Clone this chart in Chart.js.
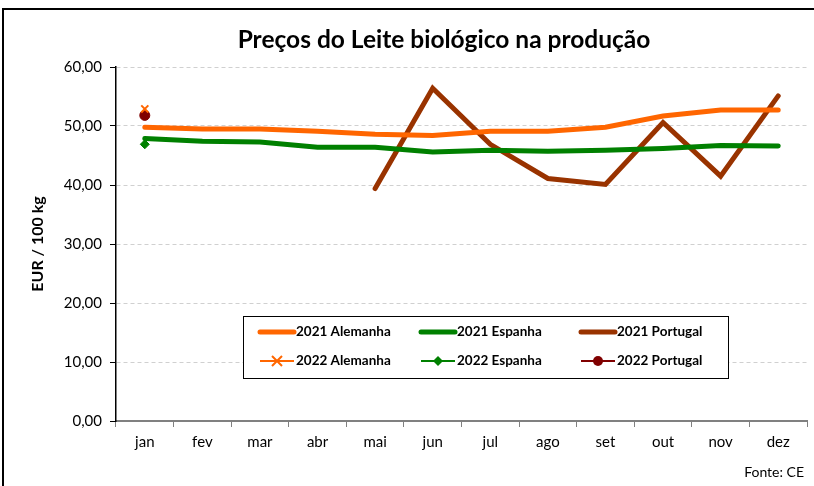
<!DOCTYPE html>
<html>
<head>
<meta charset="utf-8">
<script src="https://cdn.jsdelivr.net/npm/chart.js@4"></script>
<style>
  html, body { margin: 0; padding: 0; background: #fff; }
  #wrap { position: relative; width: 814px; height: 486px; }
  #frame { position: absolute; left: 2px; top: 8px; width: 830px; height: 500px; border-left: 2px solid #000; border-top: 2px solid #000; box-sizing: border-box; }
</style>
</head>
<body>
<div id="wrap">
  <div id="frame"></div>
  <canvas id="chart" width="814" height="486"></canvas>
</div>
<script>
const months = ['jan', 'fev', 'mar', 'abr', 'mai', 'jun', 'jul', 'ago', 'set', 'out', 'nov', 'dez'];

const alemanha2021 = [49.8, 49.5, 49.5, 49.1, 48.6, 48.4, 49.1, 49.1, 49.8, 51.7, 52.7, 52.7];
const espanha2021 = [47.9, 47.4, 47.3, 46.4, 46.4, 45.6, 45.9, 45.7, 45.9, 46.2, 46.7, 46.6];
const portugal2021 = [null, null, null, null, 39.4, 56.4, 46.9, 41.1, 40.1, 50.6, 41.5, 55.1];
const alemanha2022 = [52.9];
const espanha2022 = [46.9];
const portugal2022 = [51.8];

const chartTitle = 'Preços do Leite biológico na produção';
const sourceNote = 'Fonte: CE';

const FONT = "Lato, 'Open Sans', sans-serif";

// title, source note and the boxed legend inside the plot
const decorations = {
  id: 'decorations',
  afterDraw(chart) {
    const c = chart.ctx;
    const a = chart.chartArea;
    c.save();
    c.fillStyle = '#000';
    c.textBaseline = 'middle';
    c.textAlign = 'center';
    c.font = "bold 24.5px " + FONT;
    c.fillText(chartTitle, 444, 40);
    c.textAlign = 'right';
    c.font = "14px " + FONT;
    c.fillText(sourceNote, 804, 472);
    c.textAlign = 'left';

    const x0 = a.left + 127, y0 = a.top + 249, w = 485, h = 62;
    c.fillStyle = '#fff';
    c.fillRect(x0, y0, w, h);
    c.strokeStyle = '#000';
    c.lineWidth = 1;
    c.strokeRect(x0 + 0.5, y0 + 0.5, w, h);
    c.font = "bold 13.5px " + FONT;
    const cols = [x0 + 17, x0 + 178, x0 + 338];
    chart.data.datasets.forEach((ds, i) => {
      const col = cols[i % 3];
      const y = y0 + (i < 3 ? 16 : 45);
      c.strokeStyle = ds.borderColor;
      c.lineWidth = i < 3 ? 5 : 2;
      c.lineCap = i < 3 ? 'round' : 'butt';
      c.beginPath();
      c.moveTo(col, y);
      c.lineTo(col + 34, y);
      c.stroke();
      if (i >= 3) {
        c.fillStyle = ds.pointBackgroundColor;
        c.strokeStyle = ds.pointBorderColor;
        c.lineWidth = 2;
        const mx = col + 17;
        if (ds.pointStyle === 'crossRot') {
          c.beginPath();
          c.moveTo(mx - 5, y - 5); c.lineTo(mx + 5, y + 5);
          c.moveTo(mx + 5, y - 5); c.lineTo(mx - 5, y + 5);
          c.stroke();
        } else if (ds.pointStyle === 'rectRot') {
          c.beginPath();
          c.moveTo(mx, y - 5); c.lineTo(mx + 5, y); c.lineTo(mx, y + 5); c.lineTo(mx - 5, y);
          c.closePath(); c.fill();
        } else {
          c.beginPath(); c.arc(mx, y, 5, 0, Math.PI * 2); c.fill();
        }
      }
      c.fillStyle = '#000';
      c.fillText(ds.label, col + 36, y);
    });
    c.restore();
  }
};

new Chart(document.getElementById('chart'), {
  type: 'line',
  data: {
    labels: months,
    datasets: [
      { label: '2021 Alemanha', data: alemanha2021, borderColor: '#FF6600', borderWidth: 5, pointRadius: 0, borderCapStyle: 'round' },
      { label: '2021 Espanha', data: espanha2021, borderColor: '#008000', borderWidth: 5, pointRadius: 0, borderCapStyle: 'round' },
      { label: '2021 Portugal', data: portugal2021, borderColor: '#993300', borderWidth: 5, pointRadius: 0, borderCapStyle: 'round' },
      { label: '2022 Alemanha', data: alemanha2022, borderColor: '#FF6600', borderWidth: 2, pointStyle: 'crossRot', pointRadius: 5, pointBorderWidth: 2, pointBorderColor: '#FF6600', pointBackgroundColor: '#FF6600' },
      { label: '2022 Espanha', data: espanha2022, borderColor: '#008000', borderWidth: 2, pointStyle: 'rectRot', pointRadius: 4.5, pointBorderWidth: 1, pointBorderColor: '#008000', pointBackgroundColor: '#008000' },
      { label: '2022 Portugal', data: portugal2022, borderColor: '#800000', borderWidth: 2, pointStyle: 'circle', pointRadius: 5, pointBorderWidth: 1, pointBorderColor: '#800000', pointBackgroundColor: '#800000' }
    ]
  },
  options: {
    responsive: false,
    animation: false,
    layout: { padding: { left: 24, right: 2, top: 67, bottom: 29 } },
    scales: {
      x: {
        offset: true,
        grid: { display: true, drawOnChartArea: false, offset: true, tickLength: 6, color: '#808080' },
        border: { color: '#808080', width: 2 },
        ticks: { color: '#000', font: { family: FONT, size: 15 }, padding: 6 }
      },
      y: {
        min: 0, max: 60,
        afterFit(scale) { scale.width = 92; },
        grid: { color: '#d0d0d0', tickColor: '#000', tickLength: 6, lineWidth: 1 },
        border: { color: '#000', width: 1.5, dash: [4, 3] },
        ticks: {
          stepSize: 10, color: '#000', font: { family: FONT, size: 15 }, padding: 8,
          callback: v => v.toFixed(2).replace('.', ',')
        },
        title: { display: true, text: 'EUR / 100 kg', color: '#000', font: { family: FONT, size: 16, weight: 'bold' }, padding: 4 }
      }
    },
    plugins: {
      legend: { display: false },
      tooltip: { enabled: false },
      title: { display: false },
      subtitle: { display: false }
    }
  },
  plugins: [decorations]
});
</script>
</body>
</html>
